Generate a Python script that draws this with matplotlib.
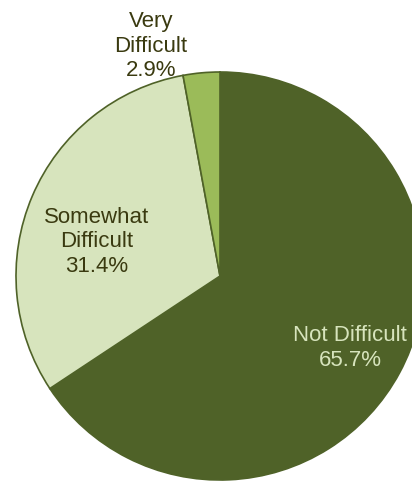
import matplotlib
matplotlib.use("Agg")
import matplotlib.pyplot as plt

categories = ["Not Difficult", "Somewhat\nDifficult", "Very\nDifficult"]
values = [65.7, 31.4, 2.9]
colors = ["#4F6228", "#D7E4BD", "#9BBB59"]
text_colors = ["#D7E4BD", "#3A3A10", "#3A3A10"]

plt.rcParams['font.family'] = ['Liberation Sans', 'DejaVu Sans']

W, H = 412, 485
cx, cy, r = 220, 277, 204
fig = plt.figure(figsize=(W/100, H/100), dpi=100)
ax = fig.add_axes([0, 0, 1, 1])
ax.pie(values, colors=colors, startangle=90, counterclock=False, radius=1.0,
       wedgeprops=dict(edgecolor="#4F6228", linewidth=1.2))
ax.set_xlim(-cx/r, (W-cx)/r)
ax.set_ylim(-(H-cy)/r, cy/r)
ax.set_aspect('equal')
ax.axis('off')

label_pos = [(350, 348), (97, 242), (151, 46)]
for cat, v, (px, py), tc in zip(categories, values, label_pos, text_colors):
    ax.text((px-cx)/r, (cy-py)/r, f"{cat}\n{v:.1f}%", ha='center', va='center',
            fontsize=16, color=tc, linespacing=1.2)

fig.savefig("out.png", dpi=100)
